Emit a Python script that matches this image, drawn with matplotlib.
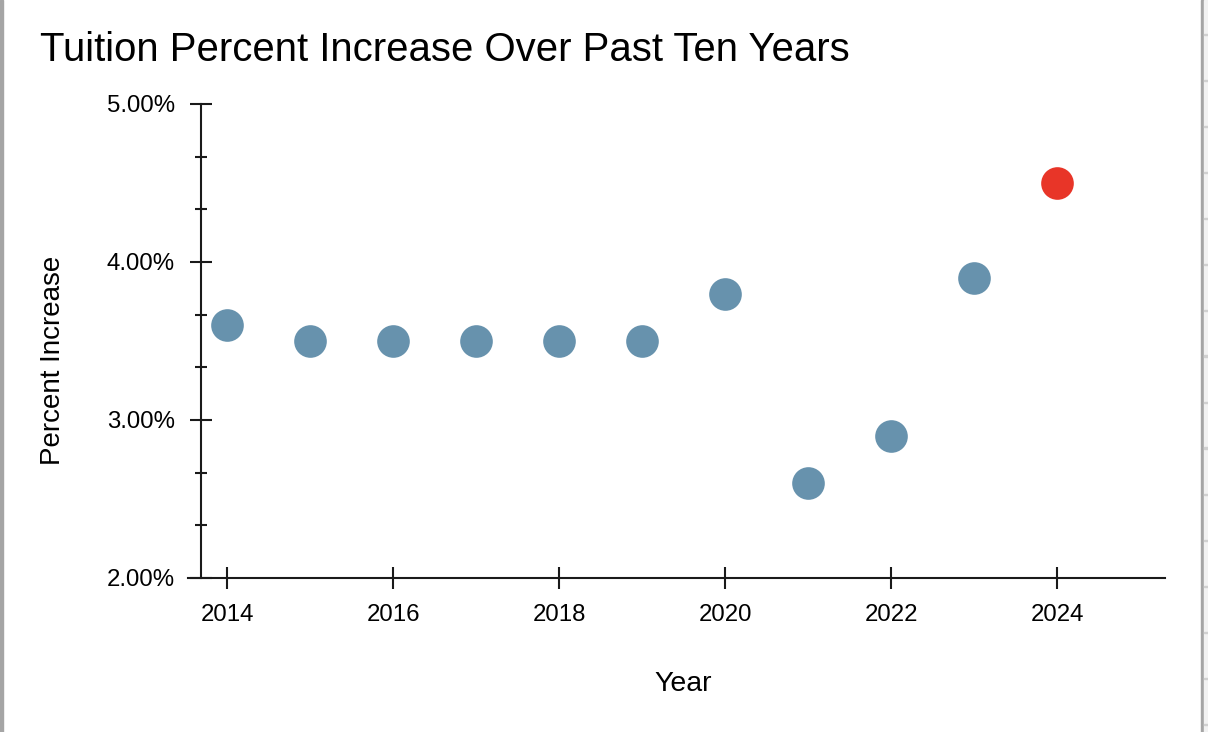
import matplotlib
matplotlib.use("Agg")
import matplotlib.pyplot as plt
from matplotlib.patches import Rectangle
from matplotlib.ticker import FixedLocator, FuncFormatter

plt.rcParams['font.family'] = ['Liberation Sans', 'DejaVu Sans']

years = [2014, 2015, 2016, 2017, 2018, 2019, 2020, 2021, 2022, 2023, 2024]
increase = [3.6, 3.5, 3.5, 3.5, 3.5, 3.5, 3.8, 2.6, 2.9, 3.9, 4.5]
highlight_year = 2024
x_ticks = [2014, 2016, 2018, 2020, 2022, 2024]
y_major = [2.0, 3.0, 4.0, 5.0]
y_minor = [2 + i / 3 for i in range(1, 9) if i % 3 != 0]

W, H = 1208, 732
fig = plt.figure(figsize=(W / 100, H / 100), dpi=100)
fig.patch.set_facecolor('white')

ax = fig.add_axes([188 / W, (H - 578) / H, (1165 - 188) / W, (578 - 104) / H])
ax.set_xlim(2013.53, 2025.3)
ax.set_ylim(2.0, 5.0)

blue = '#6792ad'
red = '#e83528'
bx = [y for y in years if y != highlight_year]
by = [v for y, v in zip(years, increase) if y != highlight_year]
rx = [y for y in years if y == highlight_year]
ry = [v for y, v in zip(years, increase) if y == highlight_year]
ax.plot(bx, by, 'o', ls='none', ms=23.5, color=blue, mec='none', clip_on=False, zorder=3)
ax.plot(rx, ry, 'o', ls='none', ms=23.5, color=red, mec='none', clip_on=False, zorder=3)

for s in ['top', 'right']:
    ax.spines[s].set_visible(False)
ax.spines['left'].set_position(('data', 2013.69))
for s in ['left', 'bottom']:
    ax.spines[s].set_linewidth(1.5)
    ax.spines[s].set_color('#1a1a1a')

ax.xaxis.set_major_locator(FixedLocator(x_ticks))
ax.yaxis.set_major_locator(FixedLocator(y_major))
ax.yaxis.set_minor_locator(FixedLocator(y_minor))
ax.yaxis.set_major_formatter(FuncFormatter(lambda v, p: f"{v:.2f}%"))
ax.tick_params(axis='both', which='major', direction='inout', length=16,
               width=1.5, color='#1a1a1a', labelsize=17.3, labelcolor='black')
ax.tick_params(axis='y', which='minor', direction='inout', length=8.5,
               width=1.5, color='#1a1a1a')
ax.tick_params(axis='x', which='major', pad=11)
ax.tick_params(axis='y', which='major', pad=11)

ax.set_xlabel('Year', fontsize=20.5)
ax.set_ylabel('Percent Increase', fontsize=20)
ax.yaxis.set_label_coords(-(188 - 40) / (1165 - 188), (578 - 360) / (578 - 104))
ax.yaxis.label.set_va('top')
ax.xaxis.set_label_coords((683 - 188) / (1165 - 188), -(691 - 578) / (578 - 104))
ax.xaxis.label.set_va('baseline')

fig.text(40 / W, 1 - 61 / H, 'Tuition Percent Increase Over Past Ten Years',
         fontsize=28.9, ha='left', va='baseline')

# screenshot frame
fig.patches.append(Rectangle((0, 0), 2.5 / W, 1, transform=fig.transFigure,
                             color='#a5a5a5', zorder=10))
fig.patches.append(Rectangle((1201 / W, 0), 3 / W, 1, transform=fig.transFigure,
                             color='#a5a5a5', zorder=10))
fig.patches.append(Rectangle((1204 / W, 0), 4 / W, 1, transform=fig.transFigure,
                             color='#f2f2f2', zorder=10))
for yy in range(35, H, 46):
    fig.patches.append(Rectangle((1204 / W, 1 - yy / H), 4 / W, 1.5 / H,
                                 transform=fig.transFigure, color='#d0d0d0', zorder=11))

fig.savefig('out.png', dpi=100)
